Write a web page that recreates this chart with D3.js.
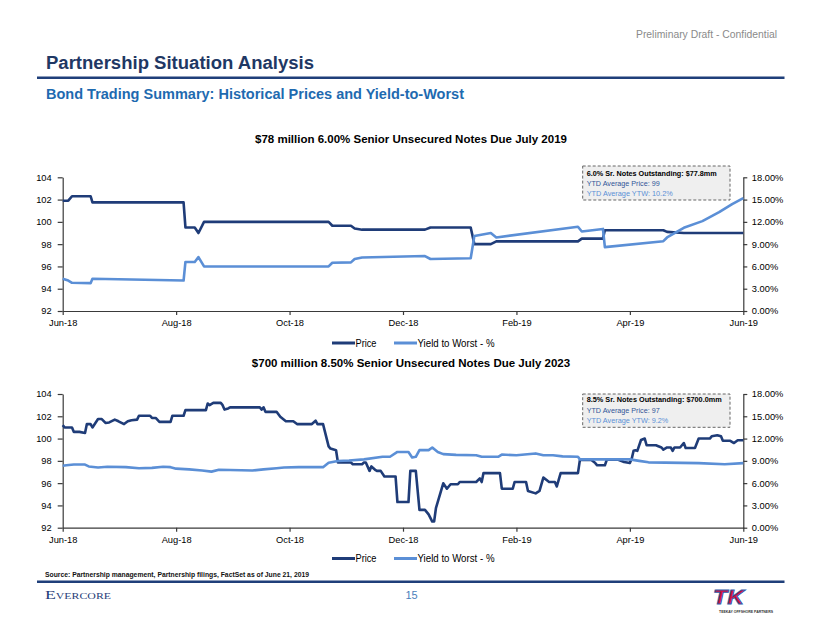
<!DOCTYPE html>
<html><head><meta charset="utf-8">
<script src="https://cdn.jsdelivr.net/npm/d3@7"></script>
<style>
body{margin:0;background:#fff}
svg{display:block;font-family:"Liberation Sans",Arial,sans-serif}
</style>
</head><body>
<svg id="c" width="822" height="635"></svg>
<script>
// ---------- DATA ----------
const tickDates = ["2018-06-01","2018-08-01","2018-10-01","2018-12-01","2019-02-01","2019-04-01","2019-06-01"];
const priceTicks = [92,94,96,98,100,102,104];
const ytwTicks = [0,3,6,9,12,15,18];

const chartTitles = ["$78 million 6.00% Senior Unsecured Notes Due July 2019",
                     "$700 million 8.50% Senior Unsecured Notes Due July 2023"];
const seriesNames = ["Price","Yield to Worst - %"];
const boxLines1 = ["6.0% Sr. Notes Outstanding: $77.8mm","YTD Average Price: 99","YTD Average YTW: 10.2%"];
const boxLines2 = ["8.5% Sr. Notes Outstanding: $700.0mm","YTD Average Price: 97","YTD Average YTW: 9.2%"];

// 6.00% notes due 2019
const price1 = [["2018-06-01",101.9],["2018-06-04",101.9],["2018-06-06",102.3],["2018-06-16",102.3],["2018-06-17",101.75],
 ["2018-08-05",101.75],["2018-08-06",99.5],["2018-08-11",99.5],["2018-08-13",99.0],["2018-08-16",100.0],
 ["2018-10-22",100.0],["2018-10-24",99.65],["2018-11-03",99.65],["2018-11-05",99.4],["2018-11-09",99.3],
 ["2018-12-13",99.3],["2018-12-16",99.5],["2019-01-07",99.5],["2019-01-09",98.0],["2019-01-18",98.0],
 ["2019-01-21",98.25],["2019-03-05",98.25],["2019-03-07",98.5],["2019-03-18",98.5],["2019-03-19",99.25],
 ["2019-04-19",99.25],["2019-04-21",99.1],["2019-04-30",99.0],["2019-06-01",99.0]];
const ytw1 = [["2018-06-01",4.35],["2018-06-04",4.1],["2018-06-06",3.8],["2018-06-16",3.75],["2018-06-17",4.35],
 ["2018-08-05",4.1],["2018-08-06",6.6],["2018-08-11",6.6],["2018-08-13",7.25],["2018-08-16",6.0],
 ["2018-10-22",6.0],["2018-10-24",6.5],["2018-11-03",6.55],["2018-11-05",7.0],["2018-11-09",7.2],
 ["2018-12-13",7.4],["2018-12-16",7.0],["2019-01-07",7.1],["2019-01-09",10.1],["2019-01-18",10.5],
 ["2019-01-21",9.9],["2019-03-05",11.35],["2019-03-07",10.7],["2019-03-18",11.05],["2019-03-19",8.6],
 ["2019-04-19",9.4],["2019-04-21",9.9],["2019-04-30",11.2],["2019-05-10",12.1],["2019-05-19",13.3],
 ["2019-05-26",14.4],["2019-06-01",15.2]];

// 8.50% notes due 2023
const price2 = [["2018-06-01",101.2],["2018-06-02",101.0],["2018-06-06",101.0],["2018-06-07",100.6],["2018-06-10",100.6],
 ["2018-06-13",100.5],["2018-06-14",101.3],["2018-06-16",101.3],["2018-06-17",101.0],["2018-06-20",101.75],
 ["2018-06-22",101.75],["2018-06-24",101.4],["2018-06-26",101.45],["2018-06-29",101.7],["2018-07-01",101.55],
 ["2018-07-04",101.3],["2018-07-06",101.55],["2018-07-08",101.65],["2018-07-11",101.7],["2018-07-12",102.05],
 ["2018-07-18",102.05],["2018-07-19",101.85],["2018-07-21",101.85],["2018-07-23",101.5],["2018-07-29",101.5],
 ["2018-07-30",102.05],["2018-08-05",102.05],["2018-08-06",102.55],["2018-08-17",102.55],["2018-08-18",103.15],
 ["2018-08-19",103.0],["2018-08-21",103.2],["2018-08-25",103.2],["2018-08-26",103.0],["2018-08-27",102.6],
 ["2018-08-29",102.7],["2018-08-30",102.8],["2018-09-15",102.8],["2018-09-16",102.6],["2018-09-17",102.8],
 ["2018-09-18",102.4],["2018-09-24",102.4],["2018-09-26",101.95],["2018-09-29",101.55],["2018-10-03",101.55],
 ["2018-10-05",101.3],["2018-10-13",101.3],["2018-10-15",101.6],["2018-10-16",101.3],["2018-10-19",101.3],
 ["2018-10-22",99.3],["2018-10-23",99.1],["2018-10-26",98.95],["2018-10-27",97.85],["2018-11-03",97.85],
 ["2018-11-04",97.7],["2018-11-09",97.7],["2018-11-10",97.85],["2018-11-11",97.85],["2018-11-13",97.1],
 ["2018-11-14",97.5],["2018-11-16",97.2],["2018-11-17",97.1],["2018-11-19",97.1],["2018-11-21",96.6],
 ["2018-11-27",96.6],["2018-11-28",94.3],["2018-12-04",94.3],["2018-12-05",97.1],["2018-12-08",97.1],
 ["2018-12-10",93.6],["2018-12-13",93.6],["2018-12-15",93.2],["2018-12-17",92.55],["2018-12-18",92.55],
 ["2018-12-19",93.75],["2018-12-23",95.98],["2018-12-25",95.5],["2018-12-27",95.9],["2018-12-31",95.9],
 ["2019-01-01",96.1],["2019-01-10",96.1],["2019-01-12",96.43],["2019-01-13",96.1],["2019-01-14",96.9],
 ["2019-01-23",96.9],["2019-01-24",95.5],["2019-01-30",95.5],["2019-01-31",96.1],["2019-02-06",96.1],
 ["2019-02-07",95.3],["2019-02-11",95.08],["2019-02-13",95.3],["2019-02-15",96.5],["2019-02-18",96.1],
 ["2019-02-21",96.1],["2019-02-22",95.7],["2019-02-24",96.9],["2019-03-05",96.9],["2019-03-06",98.07],
 ["2019-03-12",98.07],["2019-03-14",97.8],["2019-03-15",97.6],["2019-03-19",97.6],["2019-03-20",98.1],
 ["2019-03-26",98.1],["2019-03-29",97.9],["2019-04-01",97.8],["2019-04-02",98.2],["2019-04-03",98.9],
 ["2019-04-04",98.95],["2019-04-05",98.9],["2019-04-07",99.87],["2019-04-09",100.0],["2019-04-10",99.4],
 ["2019-04-15",99.4],["2019-04-18",99.2],["2019-04-19",99.0],["2019-04-21",99.2],["2019-04-23",99.2],
 ["2019-04-24",98.9],["2019-04-25",99.2],["2019-04-28",99.2],["2019-04-30",99.6],["2019-05-01",99.15],
 ["2019-05-06",99.15],["2019-05-08",100.0],["2019-05-14",100.0],["2019-05-15",100.2],["2019-05-18",100.3],
 ["2019-05-20",100.2],["2019-05-21",99.8],["2019-05-25",99.8],["2019-05-27",99.6],["2019-05-29",99.85],
 ["2019-06-01",99.85]];
const ytw2 = [["2018-06-01",8.35],["2018-06-03",8.4],["2018-06-07",8.5],["2018-06-13",8.5],["2018-06-15",8.25],
 ["2018-06-20",8.1],["2018-06-25",8.2],["2018-07-05",8.15],["2018-07-12",8.0],["2018-07-19",8.05],
 ["2018-07-25",8.2],["2018-07-29",8.15],["2018-08-01",7.95],["2018-08-08",7.85],["2018-08-15",7.7],
 ["2018-08-20",7.55],["2018-08-24",7.8],["2018-09-11",7.7],["2018-09-17",7.85],["2018-09-24",8.0],
 ["2018-09-28",8.1],["2018-10-06",8.15],["2018-10-19",8.15],["2018-10-22",8.75],["2018-10-27",8.98],
 ["2018-11-02",9.05],["2018-11-10",9.2],["2018-11-20",9.55],["2018-11-24",9.55],["2018-11-28",10.2],
 ["2018-12-04",10.2],["2018-12-06",9.45],["2018-12-08",9.55],["2018-12-10",10.45],["2018-12-15",10.45],
 ["2018-12-17",10.8],["2018-12-20",10.2],["2018-12-23",9.9],["2018-12-30",9.8],["2019-01-10",9.75],
 ["2019-01-13",9.55],["2019-01-22",9.55],["2019-01-24",9.85],["2019-02-01",9.75],["2019-02-11",10.0],
 ["2019-02-15",9.75],["2019-02-20",9.75],["2019-02-25",9.6],["2019-03-05",9.55],["2019-03-06",9.2],
 ["2019-04-01",9.2],["2019-04-06",9.0],["2019-04-11",8.8],["2019-05-08",8.7],["2019-05-22",8.55],
 ["2019-06-01",8.7]];

// ---------- DRAWING ----------
const svg = d3.select("#c");
const NAVY = "#1F3C78", LIGHT = "#5B8FD6", AXIS = "#3a3a3a";
const parse = d3.timeParse("%Y-%m-%d");
const tDates = tickDates.map(parse);
const X0 = 62.7, X1 = 743.3;
const x = d3.scaleTime().domain(tDates)
  .range(tDates.map((d,i)=> X0 + i*(X1-X0)/(tDates.length-1)));

// Header
svg.append("text").attr("x",777).attr("y",38).attr("text-anchor","end")
  .attr("font-size",10.5).attr("fill","#8a8a8a").attr("textLength",141).attr("lengthAdjust","spacingAndGlyphs")
  .text("Preliminary Draft - Confidential");
svg.append("text").attr("x",46).attr("y",69).attr("font-size",18).attr("font-weight","bold")
  .attr("fill","#1F3864").attr("textLength",268).attr("lengthAdjust","spacingAndGlyphs")
  .text("Partnership Situation Analysis");
svg.append("rect").attr("x",37).attr("y",76.5).attr("width",747.5).attr("height",2.5).attr("fill","#1F3F7A");
svg.append("text").attr("x",46).attr("y",99).attr("font-size",14).attr("font-weight","bold")
  .attr("fill","#1E6AB0").attr("textLength",418).attr("lengthAdjust","spacingAndGlyphs")
  .text("Bond Trading Summary: Historical Prices and Yield-to-Worst");

function drawChart(cfg){
  const yL = d3.scaleLinear().domain([92,104]).range([cfg.bottom,cfg.top]);
  const yR = d3.scaleLinear().domain([0,18]).range([cfg.bottom,cfg.top]);
  const g = svg.append("g");

  g.append("text").attr("x",411).attr("y",cfg.titleY).attr("text-anchor","middle")
    .attr("font-size",11.5).attr("font-weight","bold").attr("fill","#000").text(cfg.title);

  const ax = (sel)=>{ sel.selectAll("path").attr("stroke",AXIS).attr("stroke-width",1.2);
    sel.selectAll("line").attr("stroke",AXIS).attr("stroke-width",1.2);
    sel.selectAll("text").attr("font-size",9.3).attr("fill","#000")
      .attr("font-family",'"Liberation Sans",Arial,sans-serif'); };

  g.append("g").attr("transform",`translate(0,${cfg.bottom})`)
    .call(d3.axisBottom(x).tickValues(tDates).tickFormat(d3.timeFormat("%b-%y")).tickSize(4).tickSizeOuter(0).tickPadding(4.5))
    .call(ax);
  g.append("g").attr("transform",`translate(${X0},0)`)
    .call(d3.axisLeft(yL).tickValues(priceTicks).tickFormat(d3.format("d")).tickSize(5).tickSizeOuter(0).tickPadding(6))
    .call(ax);
  g.append("g").attr("transform",`translate(${X1},0)`)
    .call(d3.axisRight(yR).tickValues(ytwTicks).tickFormat(d=>d.toFixed(2)+"%").tickSize(4).tickSizeOuter(0).tickPadding(4.5))
    .call(ax);

  const lp = d3.line().x(d=>x(parse(d[0]))).y(d=>yL(d[1]));
  const ly = d3.line().x(d=>x(parse(d[0]))).y(d=>yR(d[1]));
  g.append("path").datum(cfg.price).attr("d",lp).attr("fill","none").attr("stroke",NAVY)
    .attr("stroke-width",2.6).attr("stroke-linejoin","round");
  g.append("path").datum(cfg.ytw).attr("d",ly).attr("fill","none").attr("stroke",LIGHT)
    .attr("stroke-width",2.6).attr("stroke-linejoin","round");

  // annotation box
  const b = cfg.box;
  g.append("rect").attr("x",b.x).attr("y",b.y).attr("width",b.w).attr("height",b.h)
    .attr("fill","#efefef").attr("stroke","#666").attr("stroke-width",1).attr("stroke-dasharray","3,2");
  const cols = ["#000", "#2F5597", LIGHT];
  cfg.boxLines.forEach((t,i)=>{
    g.append("text").attr("x",b.x+4).attr("y",b.y+b.base[i]).attr("font-size",7.6)
      .attr("font-weight", i===0?"bold":"normal").attr("fill",cols[i])
      .attr("textLength",b.len[i]).attr("lengthAdjust","spacingAndGlyphs").text(t);
  });

  // legend
  const ly0 = cfg.legendY;
  const items = [{n:seriesNames[0],c:NAVY,x:332,tw:21},{n:seriesNames[1],c:LIGHT,x:394,tw:77}];
  items.forEach(it=>{
    g.append("line").attr("x1",it.x).attr("x2",it.x+23).attr("y1",ly0).attr("y2",ly0)
      .attr("stroke",it.c).attr("stroke-width",3);
    g.append("text").attr("x",it.x+23.5).attr("y",ly0+3.5).attr("font-size",10).attr("fill","#000")
      .attr("textLength",it.tw).attr("lengthAdjust","spacingAndGlyphs").text(it.n);
  });
}

drawChart({top:177.3,bottom:311,titleY:143,legendY:343,title:chartTitles[0],price:price1,ytw:ytw1,
  boxLines:boxLines1, box:{x:582.7,y:166,w:147.3,h:34,base:[9.5,19.7,30],len:[130,73,86]}});
drawChart({top:394,bottom:527.7,titleY:367,legendY:558.5,title:chartTitles[1],price:price2,ytw:ytw2,
  boxLines:boxLines2, box:{x:582.7,y:394,w:147.3,h:33.3,base:[8,18.5,29.3],len:[135,73,81.6]}});

// Footer
svg.append("text").attr("x",45).attr("y",576.5).attr("font-size",7.6).attr("font-weight","bold")
  .attr("fill","#111").attr("textLength",264).attr("lengthAdjust","spacingAndGlyphs")
  .text("Source: Partnership management, Partnership filings, FactSet as of June 21, 2019");
svg.append("rect").attr("x",37).attr("y",580.5).attr("width",747.5).attr("height",2.5).attr("fill","#1F3F7A");
svg.append("text").attr("x",45).attr("y",599).attr("font-size",13.5)
  .attr("font-family",'"Liberation Serif","DejaVu Serif",serif').attr("font-variant","small-caps")
  .attr("fill","#1F3C78").attr("textLength",66).attr("lengthAdjust","spacingAndGlyphs").text("Evercore");
svg.append("text").attr("x",411.6).attr("y",599).attr("text-anchor","middle").attr("font-size",11)
  .attr("fill","#4A7EBB").text("15");
// TK logo
svg.append("text").attr("x",713).attr("y",603.5).attr("font-size",20).attr("font-weight","bold")
  .attr("font-style","italic").attr("fill","#D3123F").attr("stroke","#2F5BA8").attr("stroke-width",0.9)
  .attr("textLength",31).attr("lengthAdjust","spacingAndGlyphs").text("TK");
svg.append("text").attr("x",719).attr("y",612.5).attr("font-size",3.4).attr("font-weight","bold")
  .attr("fill","#333").attr("textLength",54).attr("lengthAdjust","spacingAndGlyphs").text("TEEKAY OFFSHORE PARTNERS");
</script>
</body></html>
